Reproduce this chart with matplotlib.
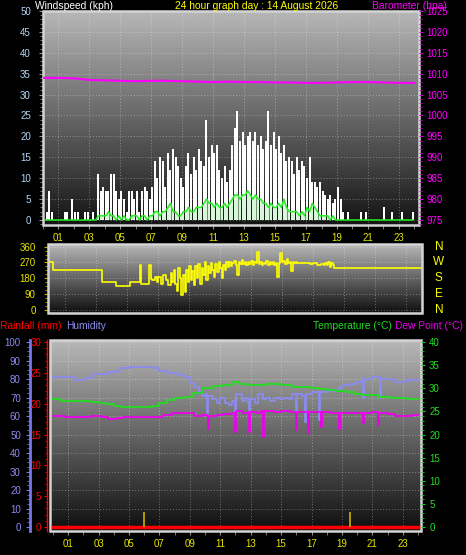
import numpy as np
import matplotlib
matplotlib.use('Agg')
import matplotlib.pyplot as plt
from matplotlib.ticker import MultipleLocator, FixedLocator
from matplotlib.patches import Rectangle

plt.rcParams['font.family'] = ['Liberation Sans', 'DejaVu Sans']

# ---------------- DATA ----------------
title = "24 hour graph day : 14 August 2026"
hour_labels = ['01', '03', '05', '07', '09', '11', '13', '15', '17', '19', '21', '23']
hour_label_pos = [1, 3, 5, 7, 9, 11, 13, 15, 17, 19, 21, 23]

# wind gust (kph), 10-minute readings from 00:00
wind_gust = [0, 2, 7, 2, 0, 0,   0, 0, 2, 2, 0, 5,   2, 2, 0, 0, 2, 2,
             0, 2, 0, 11, 7, 8,  7, 7, 11, 11, 7, 5,  7, 5, 2, 7, 7, 5,
             7, 2, 7, 8, 7, 5,   8, 14, 10, 15, 14, 8, 16, 12, 17, 15, 13, 10,
             8, 13, 16, 11, 15, 12, 17, 14, 13, 24, 15, 18, 16, 18, 12, 10, 13, 9,
             12, 18, 22, 26, 19, 21, 18, 20, 21, 19, 21, 18, 20, 17, 19, 26, 18, 21,
             17, 20, 16, 18, 14, 15, 14, 11, 15, 12, 14, 13, 10, 15, 9, 9, 8, 9,
             7, 6, 5, 6, 4, 5,   8, 5, 2, 0, 2, 0,   0, 0, 0, 2, 0, 2,
             0, 0, 0, 0, 0, 0,   3, 0, 0, 2, 0, 0,   0, 2, 0, 0, 0, 2]
# average wind speed (kph), 10-minute readings
wind_avg = [0, 0, 0, 0, 0, 0,  0, 0, 0, 0, 0, 0,  0, 0, 0, 0, 0, 0,
            0, 0, 0, 1, 1, 1,  1, 2, 1, 1, 0, 1,  0, 1, 0, 0, 1, 1,
            1, 0, 1, 1, 0, 1,  1, 2, 2, 1, 2, 2,  3, 4, 2, 2, 1, 1,
            2, 2, 3, 2, 2, 3,  3, 3, 4, 5, 4, 4,  3, 4, 3, 3, 4, 3,
            4, 5, 6, 6, 5, 6,  6, 7, 6, 5, 6, 5,  5, 4, 4, 3, 4, 3,
            3, 4, 3, 5, 3, 2,  2, 2, 2, 1, 2, 1,  3, 2, 4, 3, 2, 1,
            1, 1, 1, 0, 1, 0,  0, 0, 0, 0, 0, 0,  0, 0, 0, 0, 0, 0,
            0, 0, 0, 0, 0, 0,  0, 0, 0, 0, 0, 0,  0, 0, 0, 0, 0, 0]
reading_minutes = 10

# barometer (hPa), hourly
baro_hour = list(range(25))
baro = [1009.0, 1009.0, 1008.9, 1008.5, 1008.4, 1008.3, 1008.2, 1008.3, 1008.3,
        1008.2, 1008.1, 1008.0, 1008.1, 1008.0, 1008.0, 1007.9, 1007.9, 1007.8,
        1007.8, 1007.9, 1008.0, 1008.0, 1007.9, 1007.8, 1007.8]

# wind direction (degrees)
dir_hour = [0.0, 0.2, 3.35, 4.3, 5.2, 5.8, 5.9, 6.3, 6.4, 6.5,
            6.6, 6.8, 6.9, 7.0, 7.2, 7.3, 7.5, 7.6, 7.8, 7.9, 8.0, 8.1, 8.2, 8.3, 8.4,
            8.5, 8.6, 8.7, 8.8, 8.9, 9.0, 9.1, 9.2, 9.3, 9.4, 9.5, 9.6, 9.7, 9.8, 9.9,
            10.0, 10.1, 10.2, 10.3, 10.4, 10.5, 10.6, 10.7, 10.8, 10.9, 11.0, 11.1,
            11.2, 11.3, 11.4, 11.5, 11.6, 11.7, 11.8, 11.9, 12.0, 12.1, 12.2, 12.3,
            12.4, 12.5, 12.6, 12.7, 12.8, 12.9, 13.0, 13.1, 13.2, 13.3, 13.4, 13.5,
            13.6, 13.7, 13.8, 13.9, 14.0, 14.1, 14.2, 14.3, 14.4, 14.5, 14.6, 14.7,
            14.8, 14.9, 15.0, 15.1, 15.2, 15.3, 15.4, 15.5, 15.6, 15.7, 15.8, 15.9,
            16.0, 16.2, 16.5, 16.8, 17.0, 17.3, 17.5, 17.7, 17.8, 17.9, 18.0, 18.1,
            18.2, 18.3, 18.4, 24.0]
wind_dir = [270, 225, 158, 135, 158, 255, 150, 150, 255, 176,
            170, 190, 160, 185, 150, 200, 170, 140, 210, 160, 230, 150, 110, 240, 180,
            85, 200, 100, 230, 160, 250, 170, 220, 140, 250, 180, 260, 150, 240, 200,
            270, 170, 250, 210, 265, 230, 190, 260, 215, 270, 240, 180,
            255, 230, 270, 245, 275, 250, 265, 280, 255, 200, 270, 260,
            285, 262, 275, 255, 270, 262, 280, 258, 270, 265, 330, 260,
            275, 255, 268, 262, 278, 258, 270, 262, 275, 255, 268, 190,
            265, 325, 270, 280, 262, 290, 268, 275, 220, 272, 265, 275,
            268, 265, 268, 262, 265, 258, 262, 255, 265, 258, 270, 245,
            268, 255, 237, 237]
dir_ticks = [0, 90, 180, 270, 360]
compass = ['N', 'E', 'S', 'W', 'N']

# humidity (%)
hum_hour = [0.0, 0.5, 1.2, 1.4, 1.9, 2.1, 2.6, 3.2, 3.6, 4.2, 4.4, 5.0, 6.0, 6.5, 7.0,
            7.5, 7.8, 8.2, 8.65, 9.0, 9.3, 9.6, 9.8, 10.0, 10.1, 10.16, 10.5, 10.8,
            11.0, 11.3, 11.6, 11.8, 12.0, 12.06, 12.4, 12.6, 12.8, 12.9, 12.96, 13.3,
            13.5, 13.8, 14.0, 14.3, 14.6, 14.9, 15.2, 15.5, 15.7, 16.0, 16.06, 16.4,
            16.6, 16.66, 17.0, 17.5, 17.56, 18.0, 18.4, 18.8, 19.0, 19.5, 20.0, 20.3,
            20.4, 20.46, 21.0, 21.4, 21.5, 21.56, 22.5, 23.2, 24.0]
humidity = [81, 81, 81, 79.5, 79.5, 80.5, 82.5, 82.7, 84, 84.3, 86, 86.5, 86.5, 85.8, 84.5,
            83.5, 83, 82, 81, 78, 75.8, 73, 71, 72, 61.5, 71, 69, 67,
            70, 67, 66, 68, 57, 72, 68, 70, 67, 57.5, 69, 67,
            72, 69, 70, 68, 70, 69, 70, 69, 72, 58, 72, 71,
            57, 72, 73, 58, 73, 73.5, 74, 75, 77, 77.5, 78.5, 79.5,
            70, 80, 81, 81, 70, 80, 78.5, 79.5, 79.5]

# temperature (°C)
temp_hour = [0, 0.5, 1.5, 2.5, 3.0, 3.5, 4.0, 4.5, 5.5, 6.5, 7.0, 7.5, 8.0, 8.65, 9.2,
             9.8, 10.5, 11.2, 11.8, 12.2, 12.8, 13.4, 14.0, 14.5, 15.0, 15.7, 16.3,
             16.9, 17.5, 18.0, 18.6, 19.3, 19.8, 20.3, 21.4, 22.2, 22.8, 23.3, 24.0]
temperature = [27.6, 27.3, 27.3, 27.0, 26.9, 26.5, 26.2, 26.0, 26.0, 26.2, 26.8, 27.4, 27.9,
               28.2, 29.0, 30.0, 30.4, 30.8, 31.4, 31.0, 30.8, 30.8, 31.0, 31.0, 30.7,
               30.3, 30.2, 30.0, 29.8, 29.6, 29.5, 29.2, 28.8, 28.5, 28.2, 28.0, 28.0,
               27.7, 27.7]

# dew point (°C)
dew_hour = [0, 0.8, 1.5, 2.5, 3.2, 3.6, 4.2, 4.6, 5.5, 6.5, 7.2, 7.8, 8.65, 9.3, 9.8,
            10.1, 10.2, 10.26, 10.8, 11.2, 11.8, 12.0, 12.06, 12.5, 12.8, 12.9, 12.96,
            13.4, 13.7, 13.8, 13.86, 14.5, 15.0, 15.6, 16.0, 16.06, 16.5, 16.8, 16.86,
            17.3, 17.6, 17.66, 18.3, 18.8, 18.86, 19.5, 20.3, 20.4, 20.46, 21.0, 21.4,
            21.46, 22.0, 22.5, 23.2, 23.6, 24.0]
dew_point = [24.1, 23.7, 23.8, 23.9, 23.7, 23.4, 23.6, 23.7, 23.7, 23.7, 24.2, 24.6, 24.6,
             24.0, 24.2, 24.0, 21.3, 24.0, 24.2, 24.4, 24.6, 20.6, 25.1, 24.6, 24.8,
             20.6, 24.9, 24.7, 25.0, 19.5, 25.0, 24.8, 25.0, 24.8, 21.0, 24.9, 24.9,
             20.3, 24.8, 24.9, 21.7, 24.8, 24.7, 21.3, 24.7, 24.6, 24.7, 22.4, 24.7,
             24.8, 22.0, 24.7, 24.5, 24.0, 24.0, 24.2, 24.2]

# rainfall (mm)
rain_hour = [0, 24]
rainfall = [0, 0]
rain_mark_hour = [6.0, 19.5]
rain_mark = [2.4, 2.4]

# ---------------- FIGURE ----------------
W, H = 466, 555
fig = plt.figure(figsize=(W / 100, H / 100), dpi=100, facecolor='black')
PT = 72 / 100  # points per pixel

YEL = '#e6e600'
GRID = dict(color='white', alpha=0.35, linestyle=(0, (1, 2)), linewidth=0.7)
FRAME = '#d4d4d4'
HFS = 7.4


def px_axes(l, t, r, b):
    return fig.add_axes([l / W, 1 - b / H, (r - l) / W, (b - t) / H])


def gradient(ax, top=0.72, bot=0.06):
    g = np.linspace(top, bot, 256).reshape(-1, 1)
    ax.imshow(g, cmap='gray', vmin=0, vmax=1, extent=[0, 1, 0, 1],
              transform=ax.transAxes, aspect='auto', zorder=0, interpolation='bilinear')


def frame(ax):
    for s in ax.spines.values():
        s.set_visible(False)
    ax.add_patch(Rectangle((0, 0), 1, 1, transform=ax.transAxes, fill=False,
                           ec=FRAME, lw=1.8, zorder=6, clip_on=False))


# ---------- top panel: wind speed + barometer ----------
ax1 = px_axes(43, 11, 419, 225)
ax1.set_facecolor('black')
gradient(ax1, 0.72, 0.08)
t_read = np.arange(len(wind_gust)) * reading_minutes / 60.0
ax1.bar(t_read, wind_gust, width=0.13, align='edge', color='white', lw=0, zorder=2)
ax1.bar(t_read, wind_avg, width=0.14, align='edge', color='#b8f0b8', alpha=0.55, lw=0, zorder=3)
ax1.plot(t_read + 0.07, wind_avg, color='#22ee22', lw=1.1, zorder=4)
ax1.set_xlim(0, 24.3)
ax1.set_ylim(-1.2, 50)
ax1.yaxis.set_major_locator(MultipleLocator(5))
ax1.yaxis.set_minor_locator(MultipleLocator(1))
ax1.xaxis.set_major_locator(FixedLocator(hour_label_pos))
ax1.xaxis.set_minor_locator(MultipleLocator(1))
ax1.set_xticklabels(hour_labels)
ax1.tick_params(axis='y', which='major', colors='#909090', labelcolor='#b4d4f4',
                labelsize=7, length=3, pad=8 * PT)
ax1.tick_params(axis='y', which='minor', colors='#909090', length=2)
ax1.tick_params(axis='x', which='both', colors='#909090', labelcolor=YEL,
                labelsize=7, length=3, pad=4 * PT)
ax1.grid(True, which='major', **GRID)
ax1.set_axisbelow(False)
frame(ax1)

axp = ax1.twinx()
axp.plot(baro_hour, baro, color='#ff00ff', lw=1.5, zorder=5)
axp.set_ylim(975 - 1.2, 1025)
axp.yaxis.set_major_locator(MultipleLocator(5))
axp.yaxis.set_minor_locator(MultipleLocator(1))
axp.tick_params(axis='y', which='major', colors='#cc00cc', labelcolor='#ff00ff',
                labelsize=7, length=3, pad=3 * PT)
axp.tick_params(axis='y', which='minor', colors='#cc00cc', length=2)
for s in axp.spines.values():
    s.set_visible(False)

fig.text(35 / W, 1 - 6 / H, 'Windspeed (kph)', color='white', fontsize=HFS, va='center', ha='left')
fig.text(257 / W, 1 - 6 / H, title, color='#ffff00', fontsize=HFS, va='center', ha='center')
fig.text(372 / W, 1 - 6 / H, 'Barometer (hpa)', color='#ff00ff', fontsize=HFS, va='center', ha='left')

# ---------- middle panel: wind direction ----------
ax2 = px_axes(48, 244, 422, 313)
ax2.set_facecolor('black')
gradient(ax2, 0.72, 0.06)
ax2.plot(dir_hour, wind_dir, color='#ffff00', lw=1.2, drawstyle='steps-post', zorder=4)
ax2.set_xlim(-0.13, 24.06)
ax2.set_ylim(-17, 375)
ax2.yaxis.set_major_locator(FixedLocator(dir_ticks))
ax2.yaxis.set_minor_locator(MultipleLocator(22.5))
ax2.tick_params(axis='y', which='major', colors='#b0b000', labelcolor=YEL,
                labelsize=7, length=3, pad=8 * PT)
ax2.tick_params(axis='y', which='minor', colors='#b0b000', length=2)
ax2.set_xticks([])
ax2.xaxis.set_minor_locator(FixedLocator(hour_label_pos))
ax2.tick_params(axis='x', which='minor', length=0)
ax2.grid(True, which='major', axis='y', **GRID)
ax2.grid(True, which='minor', axis='x', **GRID)
frame(ax2)
for d, lab in zip(dir_ticks, compass):
    ax2.text(1.045, d, lab, color='#ffff00', fontsize=8.5, ha='center', va='center',
             transform=ax2.get_yaxis_transform())

# ---------- bottom panel: rain / humidity / temperature / dew point ----------
ax3 = px_axes(50, 340, 421, 531)
ax3.set_facecolor('black')
gradient(ax3, 0.72, 0.06)
ax3.plot(hum_hour, humidity, color='#8c8cf0', lw=1.3, drawstyle='steps-post', zorder=4)
ax3.set_xlim(-0.2, 24.2)
ax3.set_ylim(-2.16, 101.1)
ax3.yaxis.set_major_locator(MultipleLocator(10))
ax3.yaxis.set_minor_locator(MultipleLocator(2.5))
ax3.xaxis.set_major_locator(FixedLocator(hour_label_pos))
ax3.xaxis.set_minor_locator(MultipleLocator(1))
ax3.set_xticklabels(hour_labels)
ax3.tick_params(axis='x', which='both', colors='#909090', labelcolor=YEL,
                labelsize=7, length=3, pad=4 * PT)
for s in ax3.spines.values():
    s.set_visible(False)
ax3.spines['left'].set_visible(True)
ax3.spines['left'].set_position(('outward', 20 * PT))
ax3.spines['left'].set_color('#7878e8')
ax3.spines['left'].set_linewidth(2)
ax3.tick_params(axis='y', which='major', colors='#7878e8', labelcolor='#8c8cf0',
                labelsize=7, length=3, pad=5 * PT)
ax3.tick_params(axis='y', which='minor', colors='#7878e8', length=2)
ax3.grid(True, which='major', **GRID)
ax3.add_patch(Rectangle((0, 0), 1, 1, transform=ax3.transAxes, fill=False,
                        ec=FRAME, lw=1.8, zorder=6, clip_on=False))

axr = ax3.twinx()
axr.plot(rain_hour, rainfall, color='#ff0000', lw=2.5, zorder=5)
axr.vlines(rain_mark_hour, 0, rain_mark, color='#c8b400', lw=1.2, zorder=5)
axr.set_ylim(-0.65, 30.33)
for s in axr.spines.values():
    s.set_visible(False)
axr.spines['left'].set_visible(True)
axr.spines['left'].set_position(('outward', 3 * PT))
axr.spines['left'].set_color('#ff0000')
axr.spines['left'].set_linewidth(1)
axr.yaxis.tick_left()
axr.yaxis.set_major_locator(MultipleLocator(5))
axr.yaxis.set_minor_locator(MultipleLocator(1))
axr.tick_params(axis='y', which='major', colors='#ff0000', labelcolor='#ff0000',
                labelsize=7, length=2, pad=3 * PT)
axr.tick_params(axis='y', which='minor', colors='#ff0000', length=1.5)

axt = ax3.twinx()
axt.plot(temp_hour, temperature, color='#22dd22', lw=1.3, drawstyle='steps-post', zorder=5)
axt.plot(dew_hour, dew_point, color='#ee00ee', lw=1.3, drawstyle='steps-post', zorder=5)
axt.set_ylim(-0.865, 40.44)
for s in axt.spines.values():
    s.set_visible(False)
axt.yaxis.set_major_locator(MultipleLocator(5))
axt.yaxis.set_minor_locator(MultipleLocator(1))
axt.tick_params(axis='y', which='major', colors='#22cc22', labelcolor='#22dd22',
                labelsize=7, length=3, pad=4 * PT)
axt.tick_params(axis='y', which='minor', colors='#22cc22', length=2)

fig.text(0 / W, 1 - 326 / H, 'Rainfall (mm)', color='#ff0000', fontsize=HFS, va='center', ha='left')
fig.text(66 / W, 1 - 326 / H, 'Humidity', color='#8c8cf0', fontsize=HFS, va='center', ha='left')
fig.text(392 / W, 1 - 326 / H, 'Temperature (°C)', color='#22dd22', fontsize=HFS, va='center', ha='right')
fig.text(395 / W, 1 - 326 / H, 'Dew Point (°C)', color='#ee00ee', fontsize=HFS, va='center', ha='left')

fig.savefig('out.png', dpi=100, facecolor='black')
